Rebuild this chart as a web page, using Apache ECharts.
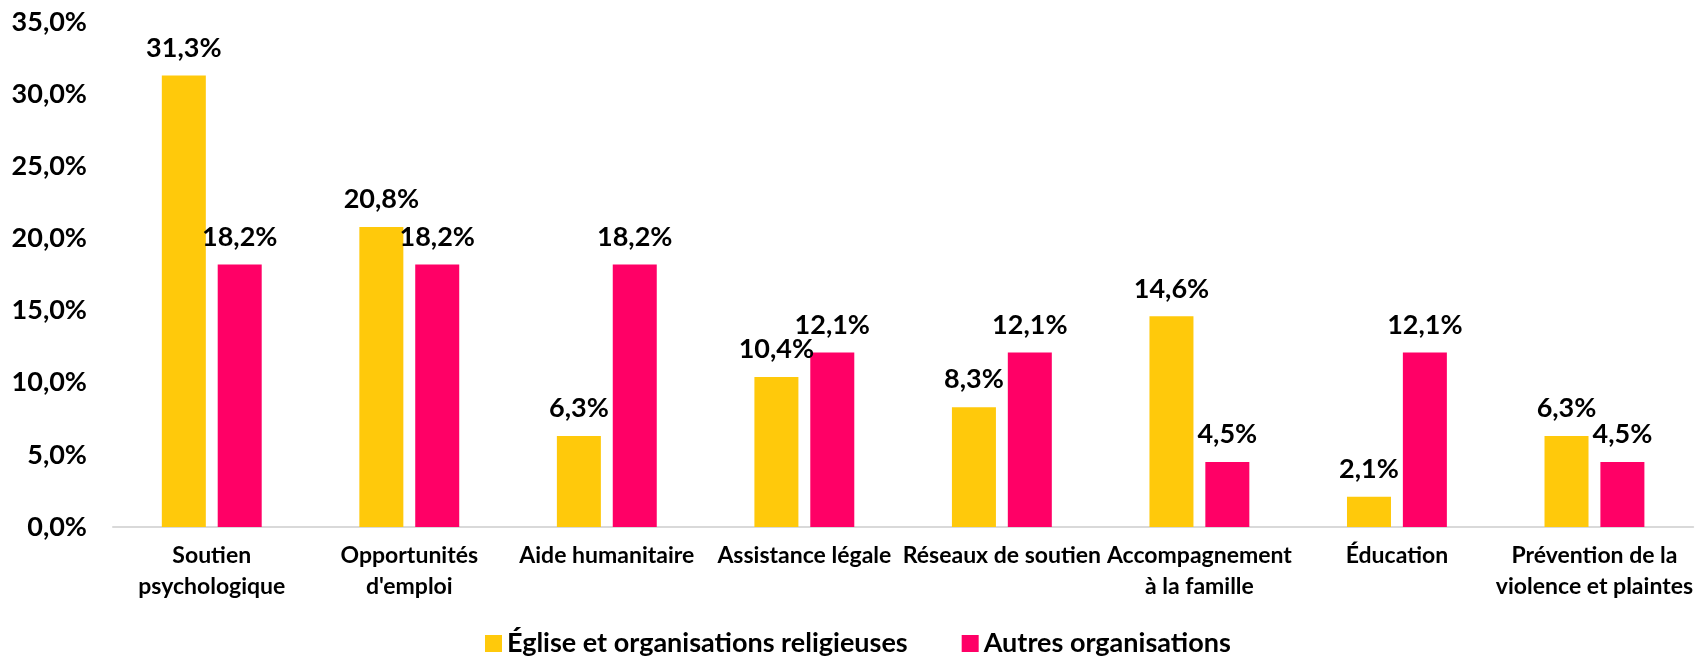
<!DOCTYPE html>
<html>
<head>
<meta charset="utf-8">
<script src="https://cdn.jsdelivr.net/npm/echarts@6/dist/echarts.min.js"></script>
<style>
  html, body { margin: 0; padding: 0; background: #fff; }
  #chart { width: 1696px; height: 656px; }
</style>
</head>
<body>
<div id="chart"></div>
<script>
// categories and values (percent)
var categories = [
  'Soutien\npsychologique',
  'Opportunités\nd\'emploi',
  'Aide humanitaire',
  'Assistance légale',
  'Réseaux de soutien',
  'Accompagnement\nà la famille',
  'Éducation',
  'Prévention de la\nviolence et plaintes'
]
var eglise = [31.3, 20.8, 6.3, 10.4, 8.3, 14.6, 2.1, 6.3]
var autres = [18.2, 18.2, 18.2, 12.1, 12.1, 4.5, 12.1, 4.5]
var seriesNames = ['Église et organisations religieuses', 'Autres organisations']

function pct (v) {
  return v.toFixed(1).replace('.', ',') + '%'
}

var font = 'Lato'
var myChart = echarts.init(document.getElementById('chart'))

var labelStyle = {
  show: true,
  position: 'top',
  distance: 14,
  color: '#000',
  fontFamily: font,
  fontWeight: 'bold',
  fontSize: 27,
  formatter: function (p) { return pct(p.value) }
}

myChart.setOption({
  animation: false,
  color: ['#FFC90B', '#FF0066'],
  grid: {
    left: 113,
    right: 2,
    top: 22,
    bottom: 129
  },
  legend: {
    left: 480,
    top: 625,
    itemWidth: 17,
    itemHeight: 17,
    itemGap: 54,
    icon: 'rect',
    textStyle: {
      color: '#000',
      fontFamily: font,
      fontWeight: 'bold',
      fontSize: 27
    },
    data: seriesNames
  },
  xAxis: {
    type: 'category',
    data: categories,
    axisLine: { lineStyle: { color: '#D9D9D9', width: 2 } },
    axisTick: { show: false },
    axisLabel: {
      color: '#000',
      fontFamily: font,
      fontWeight: 'bold',
      fontSize: 23,
      lineHeight: 31,
      margin: 13,
      interval: 0
    }
  },
  yAxis: {
    type: 'value',
    min: 0,
    max: 35,
    interval: 5,
    splitLine: { show: false },
    axisLine: { show: false },
    axisTick: { show: false },
    axisLabel: {
      color: '#000',
      fontFamily: font,
      fontWeight: 'bold',
      fontSize: 27,
      margin: 26,
      formatter: pct
    }
  },
  series: [
    {
      name: seriesNames[0],
      type: 'bar',
      barWidth: 44,
      barGap: '27%',
      data: eglise,
      label: labelStyle
    },
    {
      name: seriesNames[1],
      type: 'bar',
      barWidth: 44,
      barGap: '27%',
      data: autres,
      label: labelStyle
    }
  ]
})
</script>
</body>
</html>
